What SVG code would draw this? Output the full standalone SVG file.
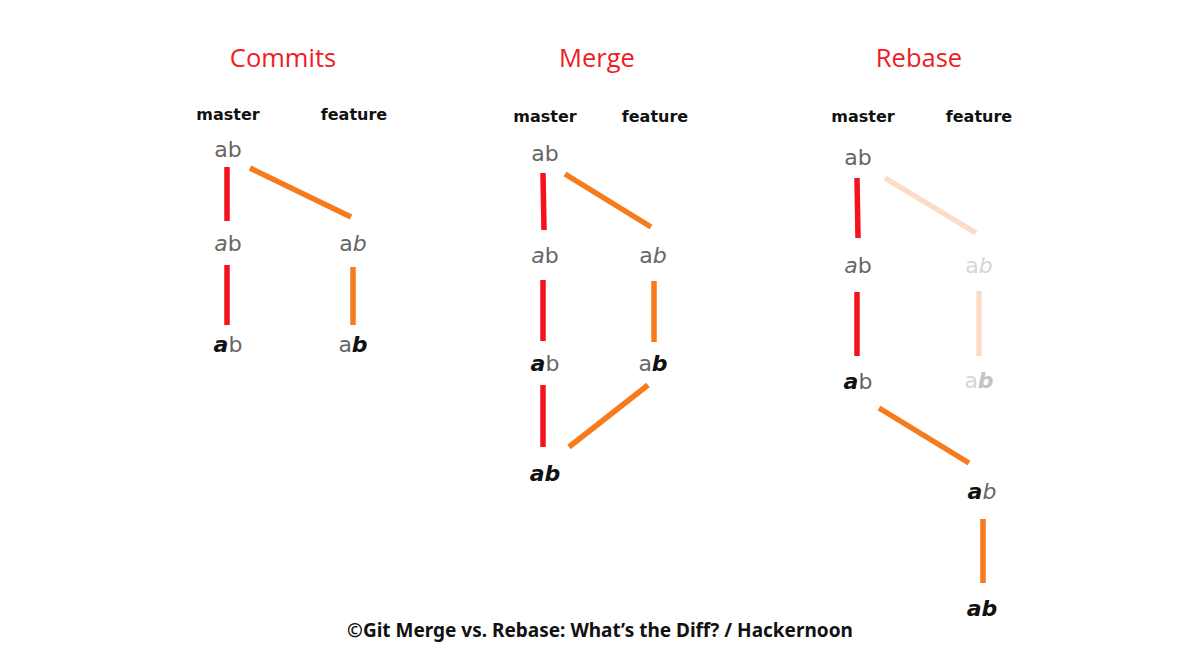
<svg xmlns="http://www.w3.org/2000/svg" width="1200" height="670" viewBox="0 0 1200 670">
<style>
.title{font-family:"Open Sans","Noto Sans",sans-serif;font-size:25.5px;fill:#ee1c25;text-anchor:middle}
.branch{font-family:"DejaVu Sans","Liberation Sans",sans-serif;font-weight:bold;font-size:16px;fill:#111;text-anchor:middle}
.c{font-family:"DejaVu Sans","Liberation Sans",sans-serif;font-size:22px;fill:#666;text-anchor:middle}
.c.faded{fill:#d6d6d6}
.i{font-style:italic}
.bi{font-style:italic;font-weight:bold;fill:#111}
.faded .bi{fill:#c4c4c4}
.red{stroke:#f5121c;stroke-width:5.5;stroke-linecap:butt;fill:none}
.org{stroke:#f57b1c;stroke-width:5.5;fill:none}
.fad{stroke:#fcdcc8;stroke-width:5.5;fill:none}
.foot{font-family:"Noto Sans","Open Sans",sans-serif;font-weight:bold;font-size:19px;fill:#111;text-anchor:middle}
</style>
<rect width="1200" height="670" fill="#fff"/>
<g id="connectors">
<line class="red" x1="227" y1="167" x2="227" y2="221"/>
<line class="red" x1="227" y1="265" x2="227" y2="325"/>
<line class="org" x1="250" y1="168" x2="351" y2="217"/>
<line class="org" x1="353" y1="267" x2="353" y2="325"/>
<line class="red" x1="543" y1="173" x2="544" y2="230"/>
<line class="red" x1="543" y1="280" x2="543" y2="341"/>
<line class="red" x1="543" y1="385" x2="543" y2="447"/>
<line class="org" x1="565" y1="174" x2="651" y2="227"/>
<line class="org" x1="654" y1="281" x2="654" y2="342"/>
<line class="org" x1="648" y1="385" x2="569" y2="447"/>
<line class="red" x1="857" y1="178" x2="858" y2="238"/>
<line class="red" x1="857" y1="292" x2="857" y2="356"/>
<line class="fad" x1="885" y1="178" x2="976" y2="233"/>
<line class="fad" x1="979" y1="291" x2="979" y2="356"/>
<line class="org" x1="879" y1="408" x2="969" y2="463"/>
<line class="org" x1="983" y1="519" x2="983" y2="583"/>
</g>
<g id="commits">
<text class="title" x="283" y="67">Commits</text>
<text class="branch" x="228" y="120">master</text>
<text class="branch" x="354" y="120">feature</text>
<g id="c-m1"><text class="c" x="228" y="157">ab</text></g>
<g id="c-m2"><text class="c" x="228" y="251"><tspan class="i">a</tspan>b</text></g>
<g id="c-m3"><text class="c" x="228" y="352"><tspan class="bi">a</tspan>b</text></g>
<g id="c-f1"><text class="c" x="353" y="251">a<tspan class="i">b</tspan></text></g>
<g id="c-f2"><text class="c" x="353" y="352">a<tspan class="bi">b</tspan></text></g>
</g>
<g id="merge">
<text class="title" x="597" y="67">Merge</text>
<text class="branch" x="545" y="122">master</text>
<text class="branch" x="655" y="122">feature</text>
<g id="m-m1"><text class="c" x="545" y="161">ab</text></g>
<g id="m-m2"><text class="c" x="545" y="263"><tspan class="i">a</tspan>b</text></g>
<g id="m-m3"><text class="c" x="545" y="371"><tspan class="bi">a</tspan>b</text></g>
<g id="m-m4"><text class="c" x="545" y="481"><tspan class="bi">ab</tspan></text></g>
<g id="m-f1"><text class="c" x="653" y="263">a<tspan class="i">b</tspan></text></g>
<g id="m-f2"><text class="c" x="653" y="371">a<tspan class="bi">b</tspan></text></g>
</g>
<g id="rebase">
<text class="title" x="919" y="67">Rebase</text>
<text class="branch" x="863" y="122">master</text>
<text class="branch" x="979" y="122">feature</text>
<g id="r-m1"><text class="c" x="858" y="165">ab</text></g>
<g id="r-m2"><text class="c" x="858" y="273"><tspan class="i">a</tspan>b</text></g>
<g id="r-m3"><text class="c" x="858" y="389"><tspan class="bi">a</tspan>b</text></g>
<g id="r-f1"><text class="c faded" x="979" y="273">a<tspan class="i">b</tspan></text></g>
<g id="r-f2"><text class="c faded" x="979" y="388">a<tspan class="bi">b</tspan></text></g>
<g id="r-n1"><text class="c" x="982" y="499"><tspan class="bi">a</tspan><tspan class="i">b</tspan></text></g>
<g id="r-n2"><text class="c" x="982" y="616"><tspan class="bi">ab</tspan></text></g>
</g>
<text class="foot" x="600" y="637">©Git Merge vs. Rebase: What’s the Diff? / Hackernoon</text>
</svg>
